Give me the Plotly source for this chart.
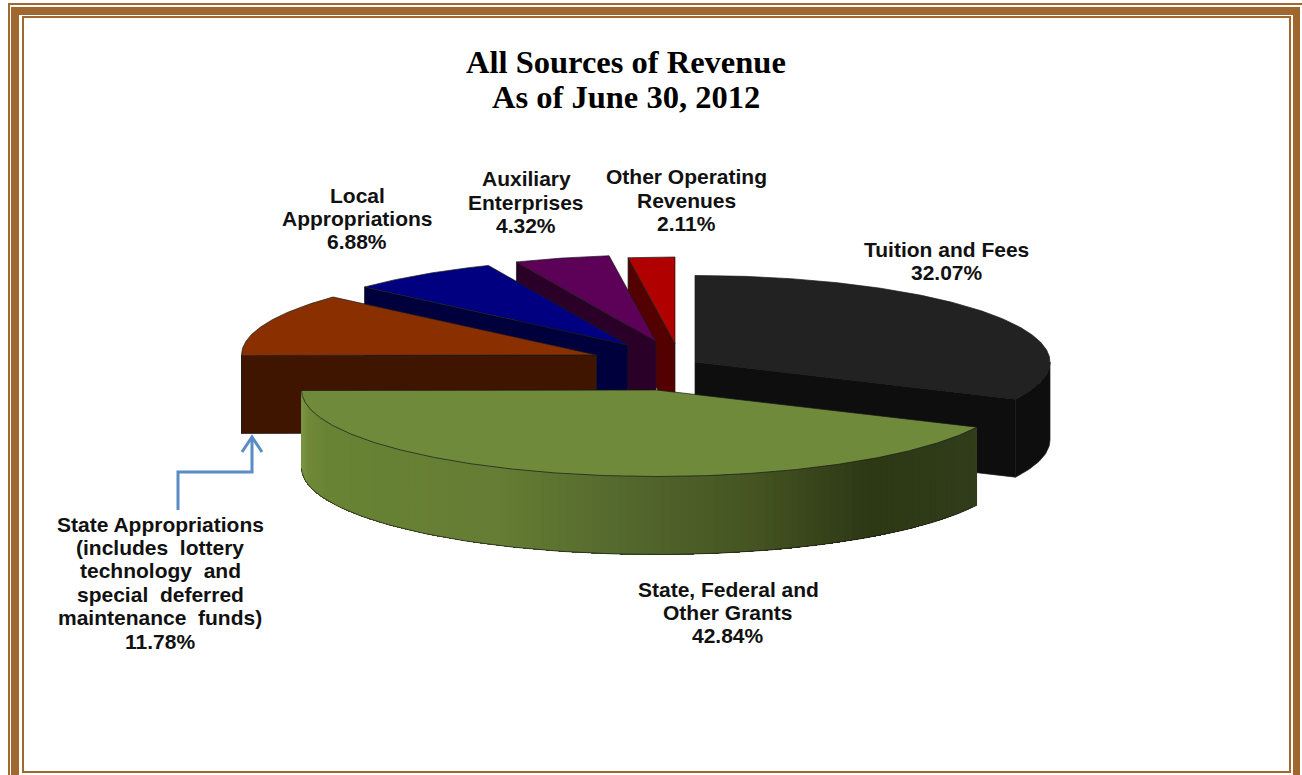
import numpy as np
import plotly.graph_objects as go

# ---- data ----
categories = ["Tuition and Fees", "State, Federal and Other Grants",
              "State Appropriations (includes lottery technology and special deferred maintenance funds)",
              "Local Appropriations", "Auxiliary Enterprises", "Other Operating Revenues"]
shares = [32.07, 42.84, 11.78, 6.88, 4.32, 2.11]
label_lines = [["Tuition and Fees"], ["State, Federal and", "Other Grants"],
               ["State Appropriations", "(includes  lottery", "technology  and",
                "special  deferred", "maintenance  funds)"],
               ["Local", "Appropriations"], ["Auxiliary", "Enterprises"], ["Other Operating", "Revenues"]]
title_lines = ["All Sources of Revenue", "As of June 30, 2012"]

# ---- styles / layout ----
top_colors = ["#222222", "#6f8a3a", "#8a3000", "#000080", "#5c0058", "#b00000"]
side_colors = ["#0e0e0e", "#55692e", "#3f1500", "#00003c", "#2b0028", "#520000"]
apex_x = [695, 656.5, 596.5, 628, 656, 675]
apex_y = [362, 390, 355, 345, 341.5, 343.5]
label_x = [946.5, 728, 160, 357, 526, 686]
label_y = [261, 612.5, 582.5, 218.5, 202, 200]
LINE_H = 23.4
RX, RY, DEPTH = 355, 86.5, 78
EDGE = "#1a1a1a"
FRAME = "#a0682f"
draw_order = [5, 4, 3, 2, 0, 1]
grad_x = [301, 308, 325, 500, 620, 750, 870, 975]
grad_rgb = [(125, 152, 70), (112, 138, 58), (105, 132, 52), (101, 125, 52),
            (85, 105, 46), (70, 85, 34), (45, 56, 21), (50, 61, 27)]

fig = go.Figure()


def rim(cx, cy, a, dy=0.0):
    a = np.radians(a)
    return cx + RX * np.sin(a), cy - RY * np.cos(a) + dy


def poly(xs, ys, fill, line=None, width=0.7, name=""):
    fig.add_trace(go.Scatter(x=list(xs) + [xs[0]], y=list(ys) + [ys[0]], mode="lines", fill="toself",
                             fillcolor=fill, line=dict(color=line or fill, width=width),
                             hoverinfo="text" if name else "skip", text=name, showlegend=False))


bounds = np.cumsum([0] + shares) * 3.6
for i in draw_order:
    cx, cy = apex_x[i], apex_y[i]
    a0, a1 = bounds[i], bounds[i + 1]
    name = f"{categories[i]}: {shares[i]}%"
    # flat cut faces that look towards the viewer
    if np.sin(np.radians(a0)) < 0:
        px, py = rim(cx, cy, a0)
        poly([cx, px, px, cx], [cy, py, py + DEPTH, cy + DEPTH], side_colors[i], EDGE, 0.7, name)
    if np.sin(np.radians(a1)) > 0:
        px, py = rim(cx, cy, a1)
        poly([cx, px, px, cx], [cy, py, py + DEPTH, cy + DEPTH], side_colors[i], EDGE, 0.7, name)
    # outer wall
    w0, w1 = max(a0, 90), min(a1, 270)
    if w1 > w0:
        ts = np.linspace(w0, w1, 110 if i == 1 else 30)
        xs, ys = rim(cx, cy, ts)
        if i == 1:
            # nested polygons: each one reaches to the far end of the wall, so no seams show
            for k in range(len(ts) - 1):
                xm = (xs[k] + xs[k + 1]) / 2
                col = [int(np.interp(xm, grad_x, [c[j] for c in grad_rgb])) for j in range(3)]
                col = "rgb(%d,%d,%d)" % tuple(col)
                poly(list(xs[k:]) + list(xs[k:][::-1]), list(ys[k:]) + list((ys[k:] + DEPTH)[::-1]),
                     col, col, 0, name)
            fig.add_trace(go.Scatter(x=xs, y=ys + DEPTH, mode="lines", line=dict(color=EDGE, width=0.7),
                                     hoverinfo="skip", showlegend=False))
        else:
            poly(list(xs) + list(xs[::-1]), list(ys) + list((ys + DEPTH)[::-1]), side_colors[i], EDGE, 0.7, name)
    # top face
    ts = np.linspace(a0, a1, max(6, int((a1 - a0) * 2)))
    xs, ys = rim(cx, cy, ts)
    poly([cx] + list(xs), [cy] + list(ys), top_colors[i], EDGE, 0.7, name)

# ---- frame, drawn as nested rectangles ----
layers = [(8, 3, 1330, 800, FRAME), (10, 5, 1330, 800, "white"), (11, 7, 1300, 800, FRAME),
          (19, 15, 1293, 800, "white"), (22, 16, 1291, 773, FRAME), (24, 18, 1289, 771, "white")]
shapes = [dict(type="rect", xref="x", yref="y", x0=a, y0=b, x1=c, y1=d, fillcolor=col,
               line=dict(width=0), layer="below") for a, b, c, d, col in layers]
# call-out arrow
shapes.append(dict(type="path", xref="x", yref="y",
                   path="M 178 510 L 178 472 L 252 472 L 252 437 M 242 452 L 252 437 L 262 452",
                   line=dict(color="#5a8cc6", width=3), layer="above"))

annotations = []
for lines, share, x, yc in zip(label_lines, shares, label_x, label_y):
    all_lines = lines + [f"{share:.2f}%"]
    n = len(all_lines)
    for j, txt in enumerate(all_lines):
        annotations.append(dict(x=x, y=yc + (j - (n - 1) / 2) * LINE_H, xref="x", yref="y", showarrow=False,
                                text=f"<b>{txt}</b>",
                                font=dict(family="Liberation Sans", size=21, color="#111111")))
for line, y in zip(title_lines, [62, 97]):
    annotations.append(dict(x=626, y=y, xref="x", yref="y", showarrow=False,
                            text=f"<b>{line}</b>",
                            font=dict(family="Liberation Serif", size=32.5, color="#000000")))

fig.update_layout(width=1302, height=775, margin=dict(l=0, r=0, t=0, b=0),
                  paper_bgcolor="white", plot_bgcolor="white", showlegend=False,
                  xaxis=dict(range=[0, 1302], visible=False, fixedrange=True),
                  yaxis=dict(range=[775, 0], visible=False, fixedrange=True),
                  shapes=shapes, annotations=annotations)
fig.write_html("out.html", config={"displayModeBar": False},
               post_script="document.body.style.margin='0';document.body.style.overflow='hidden';")
